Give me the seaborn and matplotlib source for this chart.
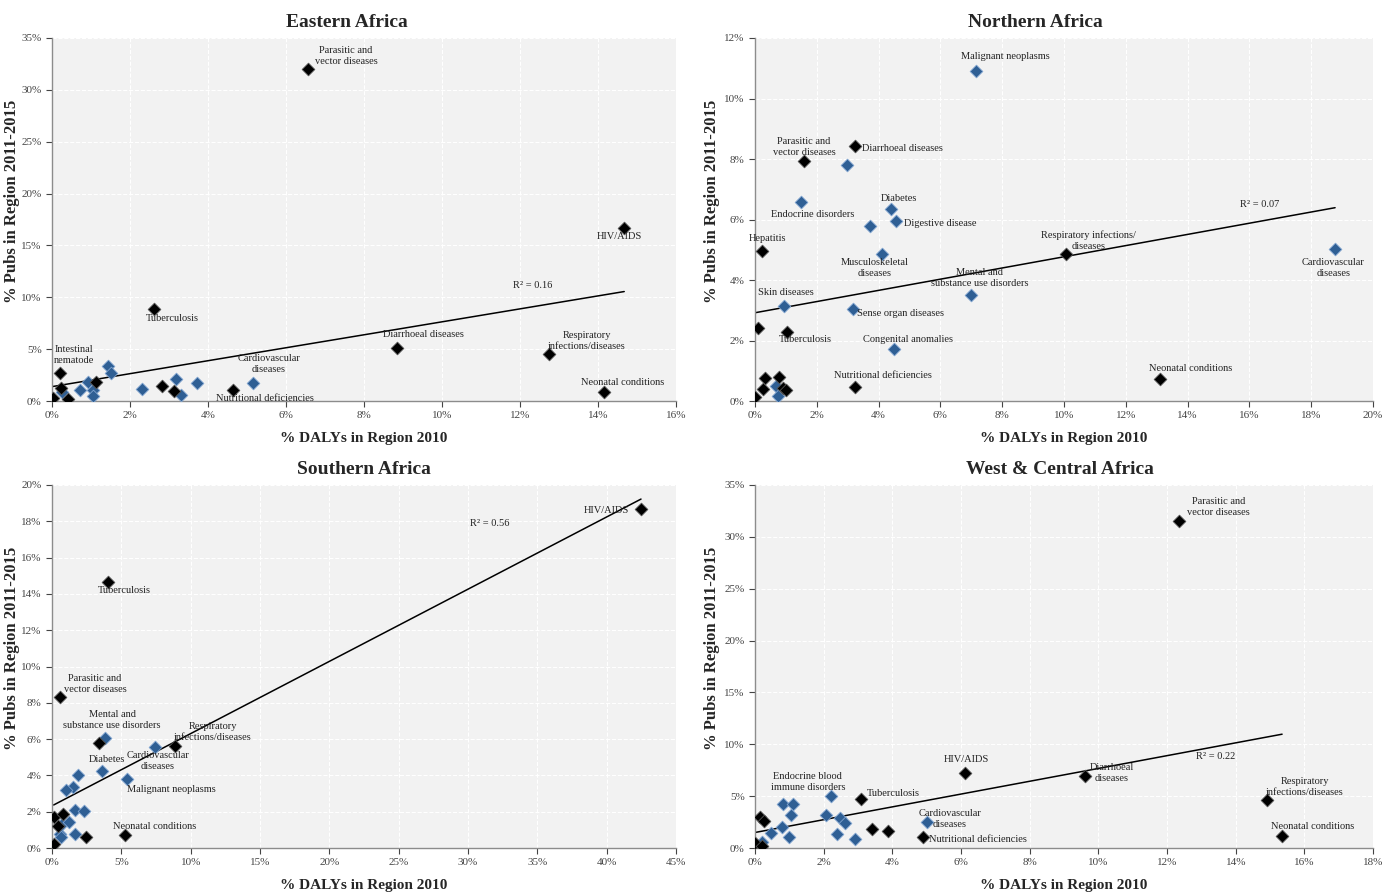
import numpy as np
import pandas as pd
import seaborn as sns
import matplotlib.pyplot as plt
from matplotlib.ticker import PercentFormatter

# point data: x = % DALYs in region 2010, y = % pubs in region 2011-2015
# grp: "c" = black diamonds, "n" = blue diamonds
east_x = [6.56, 14.67, 2.62, 8.85, 12.74, 14.15, 4.65, 5.16, 0.2, 0.03, 0.22, 0.42,
          0.25, 0.72, 0.93, 1.13, 1.06, 1.06, 1.43, 1.51, 2.3, 2.83, 3.17, 3.14, 3.32, 3.71]
east_y = [32.0, 16.7, 8.87, 5.1, 4.5, 0.87, 1.06, 1.77, 2.73, 0.32, 1.22, 0.19,
          0.9, 1.03, 1.86, 1.86, 1.06, 0.51, 3.4, 2.73, 1.13, 1.48, 2.12, 0.94, 0.58, 1.7]
east_grp = ["c", "c", "c", "c", "c", "c", "c", "n", "c", "c", "c", "c",
            "n", "n", "n", "c", "n", "n", "n", "n", "n", "c", "n", "c", "n", "n"]

north_x = [7.15, 3.24, 1.6, 2.99, 1.49, 4.39, 4.56, 3.72, 0.22, 4.11, 6.99, 0.93, 3.17,
           0.09, 1.05, 10.07, 18.77, 13.1, 4.5, 3.25, 0.0, 0.25, 0.32, 0.79, 0.68, 0.75, 0.9, 1.0]
north_y = [10.9, 8.43, 7.92, 7.79, 6.57, 6.35, 5.95, 5.79, 4.97, 4.86, 3.5, 3.14, 3.05,
           2.42, 2.27, 4.86, 5.02, 0.73, 1.72, 0.47, 0.12, 0.39, 0.77, 0.78, 0.5, 0.18, 0.42, 0.36]
north_grp = ["n", "c", "c", "n", "n", "n", "n", "n", "c", "n", "n", "n", "n",
             "c", "c", "c", "n", "c", "n", "c", "c", "c", "c", "c", "n", "n", "c", "c"]

south_x = [42.47, 4.04, 0.58, 3.85, 3.36, 7.45, 8.87, 3.58, 5.43, 1.9, 1.54, 1.01, 1.63,
           2.28, 0.14, 0.77, 0.46, 0.74, 1.25, 0.58, 0.63, 1.64, 2.45, 0.12, 5.24]
south_y = [18.68, 14.66, 8.3, 6.08, 5.77, 5.55, 5.64, 4.26, 3.8, 4.0, 3.38, 3.2, 2.09,
           2.02, 1.73, 1.87, 1.23, 1.3, 1.45, 0.77, 0.62, 0.75, 0.59, 0.24, 0.72]
south_grp = ["c", "c", "c", "n", "c", "n", "c", "n", "n", "n", "n", "n", "n",
             "n", "c", "c", "c", "n", "n", "n", "n", "n", "c", "c", "c"]

west_x = [12.35, 6.12, 9.61, 14.91, 15.35, 3.08, 2.2, 0.81, 1.12, 1.04, 2.07, 2.48, 2.63,
          5.02, 0.15, 0.26, 0.78, 0.46, 1.0, 2.4, 2.92, 3.42, 3.88, 4.9, 0.0, 0.19, 0.19]
west_y = [31.5, 7.23, 6.94, 4.63, 1.16, 4.7, 5.0, 4.2, 4.2, 3.18, 3.18, 2.86, 2.44,
          2.47, 2.96, 2.57, 1.99, 1.47, 1.09, 1.35, 0.84, 1.83, 1.64, 1.03, 0.51, 0.61, 0.19]
west_grp = ["c", "c", "c", "c", "c", "c", "n", "n", "n", "n", "n", "n", "n",
            "n", "c", "c", "n", "n", "n", "n", "n", "c", "c", "c", "c", "n", "c"]

# labels (text, x, y) in data units
east_labels = [("Parasitic and\nvector diseases", 7.54, 33.3), ("HIV/AIDS", 14.54, 15.9),
               ("Tuberculosis", 3.08, 8.0), ("Diarrhoeal diseases", 9.51, 6.46),
               ("Respiratory\ninfections/diseases", 13.72, 5.79),
               ("Neonatal conditions", 14.62, 1.83), ("Nutritional deficiencies", 5.46, 0.29),
               ("Cardiovascular\ndiseases", 5.56, 3.57), ("Intestinal\nnematode", 0.56, 4.44)]
north_labels = [("Malignant neoplasms", 8.09, 11.4), ("Parasitic and\nvector diseases", 1.59, 8.4),
                ("Diarrhoeal diseases", 4.76, 8.36), ("Diabetes", 4.66, 6.68),
                ("Endocrine disorders", 1.88, 6.15), ("Digestive disease", 5.99, 5.88),
                ("Hepatitis", 0.39, 5.36), ("Musculoskeletal\ndiseases", 3.88, 4.4),
                ("Mental and\nsubstance use disorders", 7.28, 4.07), ("Skin diseases", 1.0, 3.6),
                ("Sense organ diseases", 4.72, 2.88), ("Tuberculosis", 1.62, 2.02),
                ("Congenital anomalies", 4.95, 2.02), ("Nutritional deficiencies", 4.14, 0.83),
                ("Respiratory infections/\ndiseases", 10.78, 5.29),
                ("Cardiovascular\ndiseases", 18.71, 4.4), ("Neonatal conditions", 14.08, 1.06)]
south_labels = [("HIV/AIDS", 39.94, 18.57), ("Tuberculosis", 5.19, 14.16),
                ("Parasitic and\nvector diseases", 3.1, 9.04),
                ("Mental and\nsubstance use disorders", 4.33, 7.05),
                ("Respiratory\ninfections/diseases", 11.6, 6.39), ("Diabetes", 3.97, 4.85),
                ("Cardiovascular\ndiseases", 7.64, 4.79), ("Malignant neoplasms", 8.58, 3.2),
                ("Neonatal conditions", 7.43, 1.21)]
west_labels = [("Parasitic and\nvector diseases", 13.49, 32.9), ("HIV/AIDS", 6.15, 8.58),
               ("Diarrhoeal\ndiseases", 10.4, 7.23), ("Respiratory\ninfections/diseases", 16.02, 5.88),
               ("Neonatal conditions", 16.25, 2.03), ("Endocrine blood\nimmune disorders", 1.54, 6.36),
               ("Tuberculosis", 4.02, 5.3), ("Cardiovascular\ndiseases", 5.68, 2.8),
               ("Nutritional deficiencies", 6.5, 0.87)]

# title, data, labels, r2 text/pos, x max/step, y max/step, axes rect, title x, ylabel x
panels = [
    ("Eastern Africa", east_x, east_y, east_grp, east_labels, "R² = 0.16", (12.33, 11.1), 16, 2, 35, 5,
     [0.0373, 0.5504, 0.4477, 0.407], 0.473, -0.051),
    ("Northern Africa", north_x, north_y, north_grp, north_labels, "R² = 0.07", (16.34, 6.51), 20, 2, 12, 2,
     [0.5416, 0.5504, 0.4434, 0.407], 0.453, -0.056),
    ("Southern Africa", south_x, south_y, south_grp, south_labels, "R² = 0.56", (31.58, 17.9), 45, 5, 20, 2,
     [0.0373, 0.0493, 0.4477, 0.407], 0.5, -0.051),
    ("West & Central Africa", west_x, west_y, west_grp, west_labels, "R² = 0.22", (13.4, 8.87), 18, 2, 35, 5,
     [0.5416, 0.0493, 0.4434, 0.407], 0.494, -0.056),
]

sns.set_style("whitegrid")
plt.rcParams["font.family"] = ["Liberation Serif", "DejaVu Serif"]

fig = plt.figure(figsize=(13.94, 8.92), dpi=100)
palette = {"c": "black", "n": "#2f5f94"}
edges = {"c": "#555555", "n": "#7fa3cf"}

for (title, xs, ys, grp, labels, r2, r2pos, xmax, xstep, ymax, ystep, rect,
     title_x, ylab_x) in panels:
    ax = fig.add_axes(rect)
    ax.set_facecolor("#f2f2f2")
    df = pd.DataFrame({"x": xs, "y": ys, "grp": grp})
    sns.regplot(data=df, x="x", y="y", scatter=False, ci=None, ax=ax,
                line_kws={"color": "black", "lw": 1.1})
    for g in ["n", "c"]:
        sub = df[df["grp"] == g]
        sns.scatterplot(data=sub, x="x", y="y", marker="D", s=42, color=palette[g],
                        edgecolor=edges[g], linewidth=0.6, ax=ax, zorder=3)
    for txt, tx, ty in labels:
        ax.text(tx, ty, txt, ha="center", va="center", fontsize=7.5, color="#222222",
                linespacing=1.25, zorder=4)
    ax.text(r2pos[0], r2pos[1], r2, ha="center", va="center", fontsize=7.5, color="#222222")
    ax.set_xlim(0, xmax)
    ax.set_ylim(0, ymax)
    ax.set_xticks(np.arange(0, xmax + 0.01, xstep))
    ax.set_yticks(np.arange(0, ymax + 0.01, ystep))
    ax.xaxis.set_major_formatter(PercentFormatter(decimals=0))
    ax.yaxis.set_major_formatter(PercentFormatter(decimals=0))
    ax.grid(True, color="white", linestyle="--", linewidth=0.8)
    for s in ["top", "right"]:
        ax.spines[s].set_visible(False)
    for s in ["left", "bottom"]:
        ax.spines[s].set_color("#8c8c8c")
        ax.spines[s].set_linewidth(1.0)
    ax.tick_params(axis="both", labelsize=8, colors="#444444", length=4, direction="out",
                   left=True, bottom=True, width=0.8)
    ax.set_title(title, fontsize=14, fontweight="bold", x=title_x, pad=8)
    ax.set_xlabel("% DALYs in Region 2010", fontsize=11, fontweight="bold", labelpad=8)
    ax.set_ylabel("% Pubs in Region 2011-2015", fontsize=12, fontweight="bold")
    ax.yaxis.set_label_coords(ylab_x, 0.55)
    if ax.get_legend() is not None:
        ax.get_legend().remove()

fig.savefig("out.png", dpi=100)
